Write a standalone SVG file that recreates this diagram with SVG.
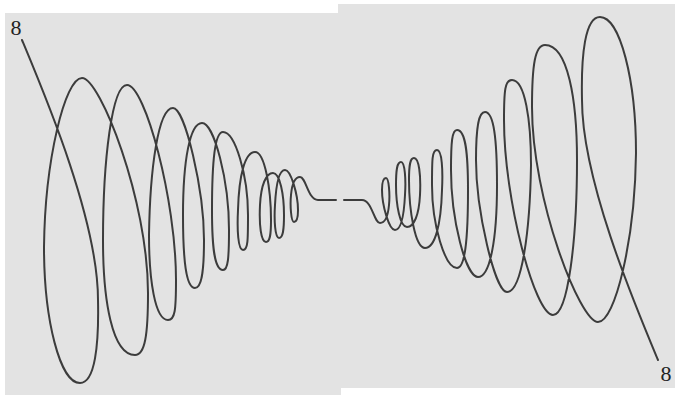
<svg xmlns="http://www.w3.org/2000/svg" xmlns:xlink="http://www.w3.org/1999/xlink" width="675" height="397" viewBox="0 0 675 397">
<style>
.panel{fill:#e3e3e3}
.spiral{fill:none;stroke:#3c3c3c;stroke-width:2;stroke-linejoin:round;stroke-linecap:round}
.lbl{font-family:"Liberation Serif","DejaVu Serif",serif;font-size:22px;fill:#222;text-anchor:middle}
</style>
<defs>
<path id="half" class="spiral" d="M22,40 C45,95 98,220 98,300 C99,345 95,383 80,383 C60,383 44,320 44,247 C45,160 65,78 82,78 C100,78 148,200 148,293 C148,335 145,355 135,355 C112,355 103,300 103,240 C103,160 112,85 127,85 C145,85 176,200 176,280 C176,310 175,320 168,320 C155,320 149,280 149,235 C150,170 158,108 173,108 C185,108 204,190 204,240 C204,275 201,288 195,288 C186,288 183,260 183,215 C183,160 190,123 202,123 C214,123 229,180 229,230 C229,258 228,270 223,270 C214,270 212,245 212,210 C212,160 215,132 223,132 C235,132 248,175 248,215 C248,240 248,250 243,250 C238,250 237,230 238,210 C239,175 245,152 255,152 C265,152 271,190 271,220 C271,235 270,242 266,242 C261,242 259,225 260,205 C261,185 266,173 273,173 C280,173 284,195 284,215 C284,230 283,238 279,238 C275,238 274,220 275,205 C276,185 279,170 285,170 C291,170 298,195 298,210 C298,218 297,222 294,222 C291,222 290,205 291,195 C292,184 295,177 300,177 C306,177 308,200 318,200 L336,200"/>
</defs>
<rect class="panel" x="5" y="13" width="336" height="382"/>
<rect class="panel" x="338" y="4" width="337" height="384"/>
<g id="spiral-left"><use xlink:href="#half"/></g>
<g id="spiral-right"><use xlink:href="#half" transform="rotate(180 340 200)"/></g>
<g id="label-start"><text class="lbl" x="16" y="35">8</text></g>
<g id="label-end"><text class="lbl" x="666" y="381">8</text></g>
</svg>
